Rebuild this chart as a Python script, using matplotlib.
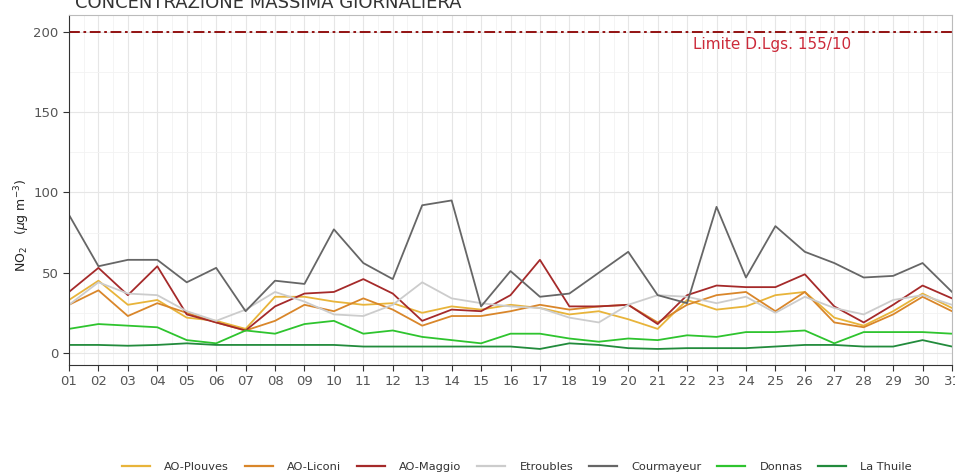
import matplotlib.pyplot as plt
import numpy as np
from matplotlib.ticker import MultipleLocator
from matplotlib.lines import Line2D

# ~~~ NO2 daily max concentrations ~~~
days = np.arange(1, 32)
day_labels = ['%02d' % d for d in days]

ao_plouves = [33, 45, 30, 33, 22, 20, 15, 35, 35, 32, 30, 31, 25, 29, 27, 30, 28, 24, 26, 21, 15, 33, 27, 29, 36, 38, 22, 17, 26, 37, 28]
ao_liconi = [30, 39, 23, 31, 25, 19, 14, 20, 30, 26, 34, 27, 17, 23, 23, 26, 30, 27, 29, 30, 19, 30, 36, 38, 26, 38, 19, 16, 24, 35, 26]
ao_maggio = [38, 53, 36, 54, 24, 19, 14, 29, 37, 38, 46, 37, 20, 27, 26, 36, 58, 29, 29, 30, 18, 36, 42, 41, 41, 49, 29, 19, 30, 42, 34]
etroubles = [30, 44, 37, 36, 26, 20, 27, 38, 32, 24, 23, 30, 44, 34, 31, 29, 28, 22, 19, 30, 36, 35, 31, 35, 25, 35, 28, 24, 33, 36, 30]
courmayeur = [86, 54, 58, 58, 44, 53, 26, 45, 43, 77, 56, 46, 92, 95, 29, 51, 35, 37, 50, 63, 36, 31, 91, 47, 79, 63, 56, 47, 48, 56, 38]
donnas = [15, 18, 17, 16, 8, 6, 14, 12, 18, 20, 12, 14, 10, 8, 6, 12, 12, 9, 7, 9, 8, 11, 10, 13, 13, 14, 6, 13, 13, 13, 12]
la_thuile = [5, 5, 4.5, 5, 6, 5, 5, 5, 5, 5, 4, 4, 4, 4, 4, 4, 2.5, 6, 5, 3, 2.5, 3, 3, 3, 4, 5, 5, 4, 4, 8, 4]

series = [
    ('AO-Plouves', ao_plouves, '#e8b43a'),
    ('AO-Liconi', ao_liconi, '#d9862a'),
    ('AO-Maggio', ao_maggio, '#a52a2a'),
    ('Etroubles', etroubles, '#cccccc'),
    ('Courmayeur', courmayeur, '#666666'),
    ('Donnas', donnas, '#2ec42e'),
    ('La Thuile', la_thuile, '#228b3c'),
]
limit = 200

W, H = 955, 476
fig = plt.figure(figsize=(W/100, H/100), dpi=100)
ax = fig.add_axes([69/W, 1 - 365/H, (952 - 69)/W, (365 - 15)/H])

for name, vals, col in series:
    ax.plot(days, vals, color=col, lw=1.3, label=name)

ax.axhline(limit, color='#8b0000', lw=1.3, ls='-.', dashes=(6, 2, 1.5, 2))
ax.text(22.2, 192, 'Limite D.Lgs. 155/10', color='#cc2a3a', fontsize=11, va='center', ha='left')

ax.set_xlim(1, 31)
ax.set_ylim(-7.5, 210.5)
ax.set_xticks(days)
ax.set_xticklabels(day_labels)
ax.set_yticks([0, 50, 100, 150, 200])
ax.xaxis.set_minor_locator(MultipleLocator(0.5))
ax.yaxis.set_minor_locator(MultipleLocator(25))
ax.grid(which='major', color='#e6e6e6', lw=0.8)
ax.grid(which='minor', color='#f2f2f2', lw=0.6)
ax.set_axisbelow(True)
ax.tick_params(which='major', length=4, color='#333333', labelcolor='#555555', labelsize=9.5)
ax.tick_params(which='minor', length=0)
for s in ['left', 'bottom']:
    ax.spines[s].set_color('#333333')
for s in ['top', 'right']:
    ax.spines[s].set_color('#bbbbbb')

fig.text(22/W, 1 - 225/H, r'NO$_2$   ($\mu$g m$^{-3}$)', rotation=90, ha='center', va='center',
         fontsize=9, color='#222222')
fig.text(75/W, 1 - 8/H, 'CONCENTRAZIONE MASSIMA GIORNALIERA', fontsize=13, color='#333333',
         ha='left', va='baseline')

# legend drawn by hand so all labels share one baseline
renderer = fig.canvas.get_renderer()
x = 122
y_leg = 1 - 466/H
for name, vals, col in series:
    fig.add_artist(Line2D([x/W, (x + 28)/W], [y_leg, y_leg], color=col, lw=1.6, transform=fig.transFigure))
    t = fig.text((x + 42)/W, y_leg, name, fontsize=8.2, color='#333333', ha='left', va='center_baseline')
    w = t.get_window_extent(renderer).width
    x = x + 42 + w + 16

fig.savefig('out.png', dpi=100)
